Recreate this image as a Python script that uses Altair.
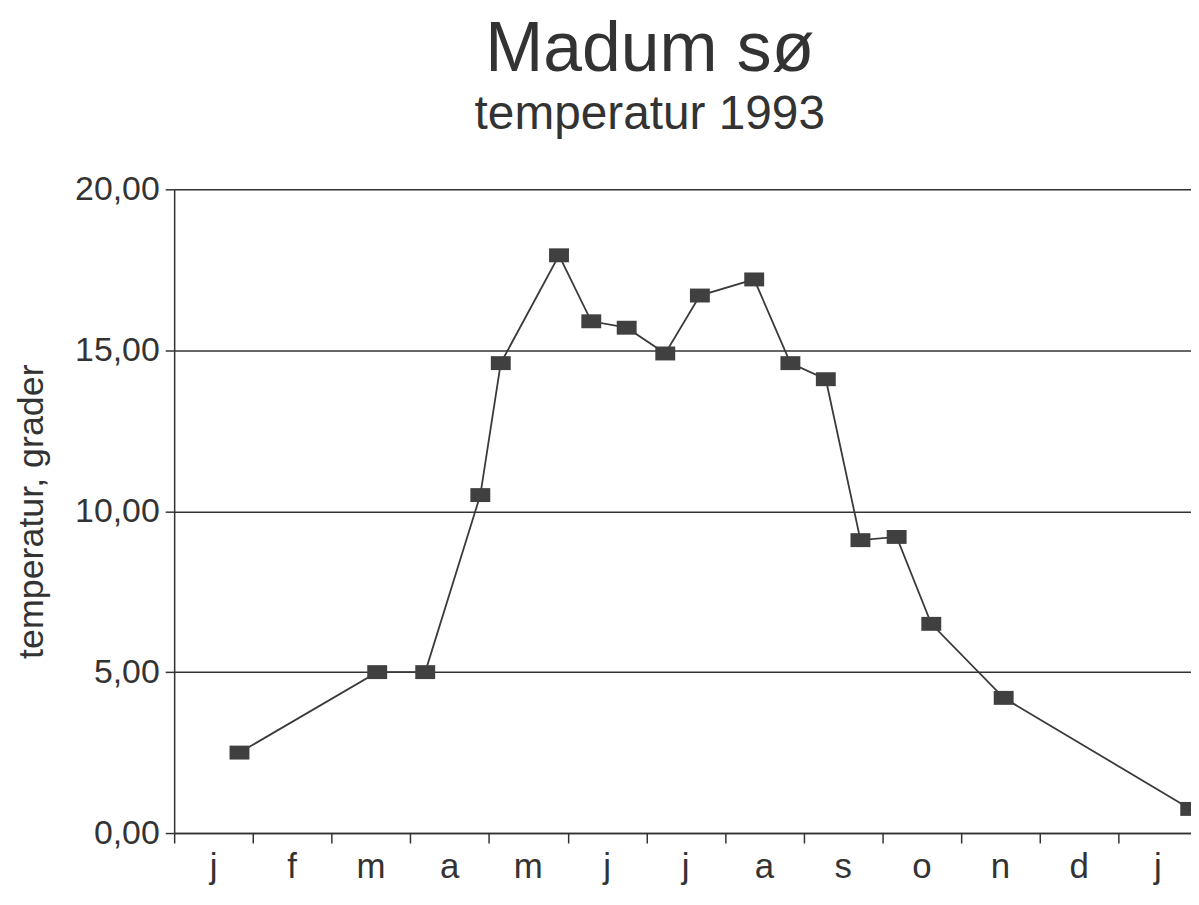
import altair as alt
import pandas as pd

# measurement dates as fractional months since 1 Jan 1993, and temperatures (°C)
month_pos = [0.83, 2.58, 3.19, 3.89, 4.15, 4.89, 5.30, 5.75, 6.24, 6.68,
             7.37, 7.83, 8.28, 8.72, 9.18, 9.62, 10.54, 12.91]
temps = [2.5, 5.0, 5.0, 10.5, 14.6, 17.95, 15.9, 15.7, 14.9, 16.7,
         17.2, 14.6, 14.1, 9.1, 9.2, 6.5, 4.2, 0.75]

month_labels = ["j", "f", "m", "a", "m", "j", "j", "a", "s", "o", "n", "d", "j"]
month_mid = [i + 0.5 for i in range(len(month_labels))]
month_ticks = list(range(0, 13))
y_ticks = [0, 5, 10, 15, 20]

data = pd.DataFrame({"m": month_pos, "t": temps})
labels = pd.DataFrame({"m": month_mid, "lab": month_labels})

FONT = "Liberation Sans"
DARK = "#333333"
W, H = 1022, 647

x_scale = alt.Scale(domain=[0, 12.92], nice=False, zero=False)
y_scale = alt.Scale(domain=[0, 20], nice=False)

x_axis = alt.Axis(values=month_ticks, labels=False, title=None, grid=False,
                  tickSize=10, tickColor=DARK, tickWidth=1.5,
                  domainColor=DARK, domainWidth=1.5)
y_axis = alt.Axis(values=y_ticks, title="temperatur, grader",
                  labelExpr="replace(format(datum.value, '.2f'), '.', ',')",
                  labelFont=FONT, labelFontSize=34, labelColor=DARK, labelPadding=6,
                  titleFont=FONT, titleFontSize=36, titleFontWeight="normal",
                  titleColor=DARK, titlePadding=24,
                  tickSize=9, tickColor=DARK, tickWidth=1.5,
                  domainColor=DARK, domainWidth=1.5,
                  grid=True, gridColor=DARK, gridWidth=1.5, gridOpacity=1)

base = alt.Chart(data).encode(
    x=alt.X("m:Q", scale=x_scale, axis=x_axis),
    y=alt.Y("t:Q", scale=y_scale, axis=y_axis),
)

line = base.mark_line(color="#3a3a3a", strokeWidth=1.8)
pts = base.mark_point(shape="M-1,-0.7L1,-0.7L1,0.7L-1,0.7Z", size=400,
                      filled=True, fill="#404040", opacity=1, strokeWidth=0)

month_text = alt.Chart(labels).mark_text(
    font=FONT, fontSize=35, color=DARK, baseline="alphabetic", align="center"
).encode(
    x=alt.X("m:Q", scale=x_scale, axis=x_axis),
    y=alt.value(H + 45),
    text="lab:N",
)

chart = alt.layer(line, pts, month_text).properties(
    width=W, height=H,
    autosize=alt.AutoSizeParams(type="none"),
    padding={"left": 167, "top": 180, "right": 0, "bottom": 56},
    title=alt.TitleParams(
        text="Madum sø", subtitle="temperatur 1993",
        font=FONT, fontSize=70, fontWeight="normal", color=DARK,
        subtitleFont=FONT, subtitleFontSize=48, subtitleColor=DARK,
        subtitlePadding=5, offset=33, dx=-33, anchor="middle",
    ),
).configure_view(stroke=None).configure(background="white")

chart.save("out.html", embed_options={"renderer": "svg", "actions": False})
